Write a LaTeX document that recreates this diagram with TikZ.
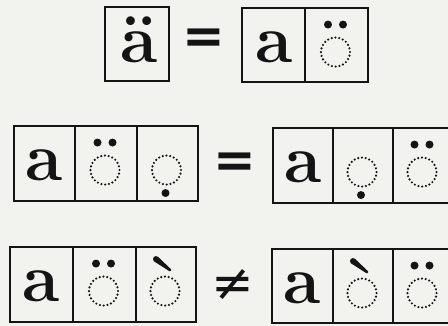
\documentclass[tikz,border=0pt]{standalone}
\usepackage{fontspec}
\newfontfamily\djs{DejaVu Sans}
\usetikzlibrary{calc}
\definecolor{paper}{RGB}{242,242,239}
\definecolor{ink}{RGB}{20,20,20}
\tikzset{
  cell/.style={draw=ink, line width=1.9pt, minimum height=75pt, inner sep=0pt},
  letter/.style={text=ink, font=\fontsize{68}{68}\selectfont\bfseries, anchor=base, inner sep=0pt},
  relsign/.style={text=ink, font=\fontsize{51}{51}\selectfont\djs\bfseries, inner sep=0pt},
  nesign/.style={text=ink, font=\fontsize{51}{51}\selectfont\djs, inner sep=0pt},
  holder/.style={draw=ink, line width=2.4pt, dash pattern=on 0pt off 3.8pt, line cap=round}
}
% dotted carrier circle with a diaeresis above
\newcommand\markdia[1]{%
  \draw[holder] ($(#1.north)+(-1,45)$) circle [radius=14.5pt];
  \fill[ink] ($(#1.north)+(-8.5,17.5)$) circle [radius=4pt];
  \fill[ink] ($(#1.north)+(6.5,17.5)$) circle [radius=4pt];
}
% dotted carrier circle with a dot below
\newcommand\markunder[1]{%
  \draw[holder] ($(#1.north)+(-1,45)$) circle [radius=14.5pt];
  \fill[ink] ($(#1.north)+(-2,68)$) circle [radius=4pt];
}
% dotted carrier circle with a grave accent
\newcommand\markgrave[1]{%
  \draw[holder] ($(#1.north)+(-1,45)$) circle [radius=14.5pt];
  \fill[ink] ($(#1.north)+(-10-1.85,13+2.36)$) -- ($(#1.north)+(4-0.8,24+1.02)$)
     -- ($(#1.north)+(4+0.8,24-1.02)$) -- ($(#1.north)+(-10+1.85,13-2.36)$) -- cycle;
  \fill[ink] ($(#1.north)+(-10,13)$) circle [radius=3pt];
  \fill[ink] ($(#1.north)+(4,24)$) circle [radius=1.3pt];
}
\begin{document}
\begin{tikzpicture}[x=1pt,y=-1pt]
\fill[paper] (0,0) rectangle (448,326);
\useasboundingbox (0,0) rectangle (448,326);
\clip (0,0) rectangle (448,326);

% row 1
\node[cell, minimum width=64pt, minimum height=74pt] (c11) at (137,44) {};
\node[cell, minimum width=63pt, minimum height=74pt] (c12) at (273.5,45) {};
\node[cell, minimum width=63pt, minimum height=74pt] (c13) at (336.5,45) {};
\node[relsign] (eq1) at (203.5,41.5) {=};
\node[letter] (t11) at ($(c11.north)+(2,56)$) {ä};
\node[letter] (t12) at ($(c12.north)+(1,55)$) {a};
\markdia{c13}

% row 2
\node[cell, minimum width=61pt] (c21) at (44.5,163.5) {};
\node[cell, minimum width=62pt] (c22) at (106,163.5) {};
\node[cell, minimum width=61pt] (c23) at (167.5,163.5) {};
\node[relsign] (eq2) at (235,165) {=};
\node[cell, minimum width=60pt] (c24) at (303,165.5) {};
\node[cell, minimum width=60pt] (c25) at (363,165.5) {};
\node[cell, minimum width=60pt] (c26) at (423,165.5) {};
\node[letter] (t21) at ($(c21.north)+(0,55)$) {a};
\node[letter] (t24) at ($(c24.north)+(0,55)$) {a};
\markdia{c22}
\markunder{c23}
\markunder{c25}
\markdia{c26}

% row 3
\node[cell, minimum width=63pt] (c31) at (41.5,284.5) {};
\node[cell, minimum width=63pt] (c32) at (104.5,284.5) {};
\node[cell, minimum width=60pt] (c33) at (166,284.5) {};
\node[nesign] (ne3) at (232.5,285) {≠};
\node[cell, minimum width=61pt, minimum height=74pt] (c34) at (302.5,286) {};
\node[cell, minimum width=60pt, minimum height=74pt] (c35) at (363,286) {};
\node[cell, minimum width=60pt, minimum height=74pt] (c36) at (423,286) {};
\node[letter] (t31) at ($(c31.north)+(0,55)$) {a};
\node[letter] (t34) at ($(c34.north)+(0,55)$) {a};
\markdia{c32}
\markgrave{c33}
\markgrave{c35}
\markdia{c36}
\end{tikzpicture}
\end{document}
